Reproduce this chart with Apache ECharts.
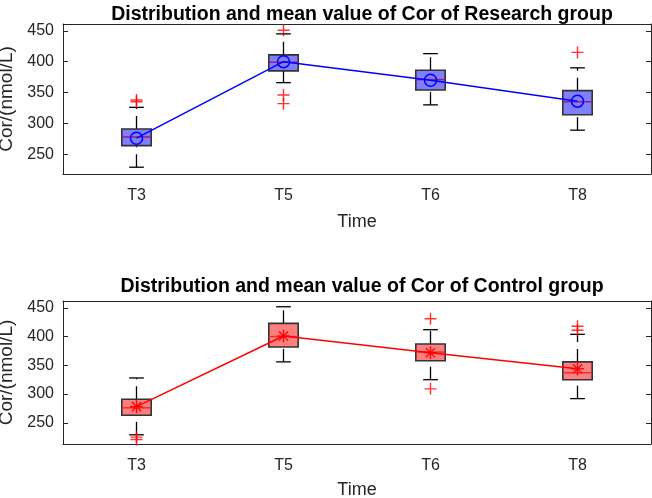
<!DOCTYPE html>
<html>
<head>
<meta charset="utf-8">
<script src="https://cdn.jsdelivr.net/npm/echarts@6/dist/echarts.min.js"></script>
<style>
  html, body { margin: 0; padding: 0; background: #fff; }
  #main { width: 652px; height: 498px; }
</style>
</head>
<body>
<div id="main"></div>
<script>
var categories = ['T3', 'T5', 'T6', 'T8'];
var yTicks = [250, 300, 350, 400, 450];

// Research group
var resLow  = [229, 366, 330, 289];
var resQ1   = [264, 385, 354, 314];
var resMed  = [278, 399, 371, 335];
var resQ3   = [291, 411, 386, 353];
var resHigh = [326, 445, 413, 390];
var resMean = [276, 400, 370, 336];
var resOutliers = [[0, 335], [0, 338], [1, 451], [1, 346], [1, 332], [3, 415]];

// Control group
var conLow  = [229, 356, 325, 292];
var conQ1   = [263, 382, 358, 325];
var conMed  = [276, 400, 373, 337];
var conQ3   = [291, 423, 387, 356];
var conHigh = [328, 452, 412, 404];
var conMean = [278, 401, 372, 344];
var conOutliers = [[0, 225], [0, 221], [2, 431], [2, 309], [3, 418], [3, 411]];

var textColor = '#262626';
var fontFam = '"Liberation Sans", Arial, sans-serif';

function boxData(low, q1, med, q3, high) {
    return categories.map(function (c, i) {
        return [i, low[i], q1[i], med[i], q3[i], high[i]];
    });
}

function boxRender(fill, medColor) {
    return function (params, api) {
        var i = api.value(0);
        var pLow = api.coord([i, api.value(1)]);
        var pQ1 = api.coord([i, api.value(2)]);
        var pMed = api.coord([i, api.value(3)]);
        var pQ3 = api.coord([i, api.value(4)]);
        var pHigh = api.coord([i, api.value(5)]);
        var half = api.size([1, 0])[0] * 0.1;
        var cap = half / 2;
        var x = pMed[0];
        var wStyle = {stroke: '#000', lineWidth: 1.3, lineDash: [13, 7]};
        return {
            type: 'group',
            children: [
                {type: 'line', shape: {x1: x, y1: pLow[1], x2: x, y2: pQ1[1]}, style: wStyle},
                {type: 'line', shape: {x1: x, y1: pQ3[1], x2: x, y2: pHigh[1]}, style: wStyle},
                {type: 'line', shape: {x1: x - cap, y1: pLow[1], x2: x + cap, y2: pLow[1]}, style: {stroke: '#000', lineWidth: 1.3}},
                {type: 'line', shape: {x1: x - cap, y1: pHigh[1], x2: x + cap, y2: pHigh[1]}, style: {stroke: '#000', lineWidth: 1.3}},
                {type: 'rect', shape: {x: x - half, y: pQ3[1], width: half * 2, height: pQ1[1] - pQ3[1]},
                    style: {fill: fill, stroke: '#333', lineWidth: 1.6}},
                {type: 'line', shape: {x1: x - half, y1: pMed[1], x2: x + half, y2: pMed[1]},
                    style: {stroke: medColor, lineWidth: 1.5}}
            ]
        };
    };
}

function starRender(params, api) {
    var p = api.coord([api.value(0), api.value(1)]);
    var r = 6.5, d = r * 0.707;
    var st = {stroke: '#ff0000', lineWidth: 1.3};
    return {
        type: 'group',
        children: [
            {type: 'line', shape: {x1: p[0] - r, y1: p[1], x2: p[0] + r, y2: p[1]}, style: st},
            {type: 'line', shape: {x1: p[0], y1: p[1] - r, x2: p[0], y2: p[1] + r}, style: st},
            {type: 'line', shape: {x1: p[0] - d, y1: p[1] - d, x2: p[0] + d, y2: p[1] + d}, style: st},
            {type: 'line', shape: {x1: p[0] - d, y1: p[1] + d, x2: p[0] + d, y2: p[1] - d}, style: st}
        ]
    };
}

var plusPath = 'path://M4.4,0H5.6V4.4H10V5.6H5.6V10H4.4V5.6H0V4.4H4.4Z';

function xAxes(gi, gap) {
    return [{
        type: 'category', gridIndex: gi, data: categories, position: 'bottom',
        name: 'Time', nameLocation: 'middle', nameGap: gap,
        nameTextStyle: {fontSize: 18, color: textColor, fontFamily: fontFam},
        axisLine: {lineStyle: {color: textColor, width: 1}},
        axisTick: {inside: true, alignWithLabel: true, length: 5, lineStyle: {color: textColor}},
        axisLabel: {fontSize: 16, color: textColor, fontFamily: fontFam, margin: 14},
        splitLine: {show: false}
    }, {
        type: 'category', gridIndex: gi, data: categories, position: 'top',
        axisLine: {lineStyle: {color: textColor, width: 1}},
        axisTick: {inside: true, alignWithLabel: true, length: 5, lineStyle: {color: textColor}},
        axisLabel: {show: false},
        splitLine: {show: false}
    }];
}

function yAxes(gi, min, max) {
    return [{
        type: 'value', gridIndex: gi, min: min, max: max, position: 'left',
        name: 'Cor/(nmol/L)', nameLocation: 'middle', nameGap: 39,
        nameTextStyle: {fontSize: 19, color: textColor, fontFamily: fontFam},
        axisLine: {show: true, lineStyle: {color: textColor, width: 1}},
        axisTick: {show: true, inside: true, length: 5, customValues: yTicks, lineStyle: {color: textColor}},
        axisLabel: {fontSize: 16, color: textColor, fontFamily: fontFam, margin: 9, customValues: yTicks},
        splitLine: {show: false}
    }, {
        type: 'value', gridIndex: gi, min: min, max: max, position: 'right',
        axisLine: {show: true, lineStyle: {color: textColor, width: 1}},
        axisTick: {show: true, inside: true, length: 5, customValues: yTicks, lineStyle: {color: textColor}},
        axisLabel: {show: false},
        splitLine: {show: false}
    }];
}

var chart = echarts.init(document.getElementById('main'));

var option = {
    backgroundColor: '#fff',
    animation: false,
    title: [{
        text: 'Distribution and mean value of Cor of Research group',
        left: 357, top: 0, textAlign: 'center',
        textStyle: {fontSize: 19.5, fontWeight: 'bold', color: '#000', fontFamily: fontFam}
    }, {
        text: 'Distribution and mean value of Cor of Control group',
        left: 357, top: 272, textAlign: 'center',
        textStyle: {fontSize: 19.5, fontWeight: 'bold', color: '#000', fontFamily: fontFam}
    }],
    grid: [
        {left: 63, right: 1, top: 24, height: 150, containLabel: false, outerBoundsMode: 'none'},
        {left: 63, right: 1, top: 301, height: 143, containLabel: false, outerBoundsMode: 'none'}
    ],
    xAxis: xAxes(0, 39).concat(xAxes(1, 37)),
    yAxis: yAxes(0, 218, 461).concat(yAxes(1, 213, 462)),
    series: [
        {
            type: 'custom', xAxisIndex: 0, yAxisIndex: 0,
            data: boxData(resLow, resQ1, resMed, resQ3, resHigh),
            renderItem: boxRender('rgba(0,0,255,0.5)', '#9b1f75'),
            z: 2
        },
        {
            type: 'line', xAxisIndex: 0, yAxisIndex: 0, data: resMean,
            lineStyle: {color: '#0000ff', width: 1.5},
            symbol: 'circle', symbolSize: 12,
            itemStyle: {color: 'rgba(0,0,0,0)', borderColor: '#0000ff', borderWidth: 1.5},
            z: 3
        },
        {
            type: 'scatter', xAxisIndex: 0, yAxisIndex: 0, data: resOutliers,
            symbol: plusPath, symbolSize: 12, itemStyle: {color: '#ff0000'}, z: 4
        },
        {
            type: 'custom', xAxisIndex: 2, yAxisIndex: 2,
            data: boxData(conLow, conQ1, conMed, conQ3, conHigh),
            renderItem: boxRender('rgba(255,0,0,0.5)', '#e8303a'),
            z: 2
        },
        {
            type: 'line', xAxisIndex: 2, yAxisIndex: 2, data: conMean,
            lineStyle: {color: '#ff0000', width: 1.5},
            symbol: 'none', z: 3
        },
        {
            type: 'custom', xAxisIndex: 2, yAxisIndex: 2,
            data: conMean.map(function (v, i) { return [i, v]; }),
            renderItem: starRender, z: 4
        },
        {
            type: 'scatter', xAxisIndex: 2, yAxisIndex: 2, data: conOutliers,
            symbol: plusPath, symbolSize: 12, itemStyle: {color: '#ff0000'}, z: 4
        }
    ]
};

chart.setOption(option, true);
</script>
</body>
</html>
